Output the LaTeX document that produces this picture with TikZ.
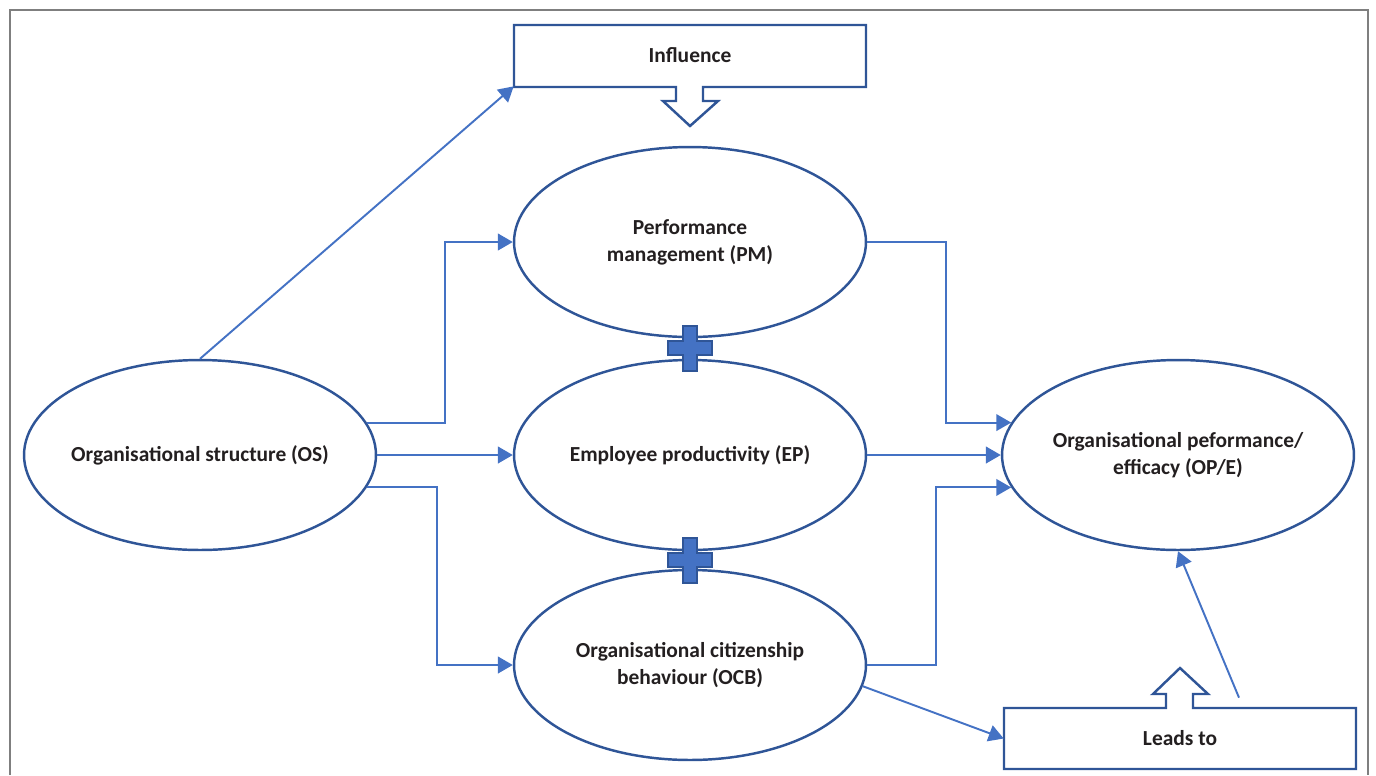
\documentclass[tikz,border=0pt]{standalone}
\usepackage{fontspec}
\setmainfont{Carlito}
\usetikzlibrary{arrows.meta,shapes.geometric,calc}
\definecolor{ebord}{HTML}{2F5597}
\definecolor{connc}{HTML}{4472C4}
\definecolor{txtc}{HTML}{231F20}
\definecolor{framec}{HTML}{7F7F7F}
\begin{document}
\begin{tikzpicture}[x=0.02cm,y=-0.02cm,
  oval/.style={ellipse,draw=ebord,line width=1.4pt,minimum width=7.04cm,minimum height=3.8cm,
    inner xsep=-25pt,inner ysep=0pt,align=center,text=txtc,font=\bfseries\fontsize{12.2}{15.3}\selectfont},
  boxlabel/.style={rectangle,draw=none,inner sep=0pt,text=txtc,font=\bfseries\fontsize{12.2}{15}\selectfont},
  calloutline/.style={draw=ebord,line width=1.4pt,fill=white,line join=miter},
  link/.style={draw=connc,line width=1.1pt,-{Triangle[length=8.5pt,width=9.5pt]}},
  plusshape/.style={fill=connc,draw=ebord,line width=0.9pt},
  framestyle/.style={draw=framec,line width=1.2pt}]
\useasboundingbox (0,0) rectangle (1376,775);
\draw[framestyle] (10,775) -- (10,10) -- (1368,10) -- (1368,775);

% ovals
\node[oval] (os)  at (200,455) {Organisational structure (OS)};
\node[oval] (pm)  at (690,242) {Performance\\management (PM)};
\node[oval] (ep)  at (690,455) {Employee productivity (EP)};
\node[oval] (ocb) at (690,665) {Organisational citizenship\\behaviour (OCB)};
\node[oval] (ope) at (1178,455) {Organisational peformance/\\efficacy (OP/E)};

% callout boxes
\draw[calloutline] (514,25) -- (866,25) -- (866,87) -- (703,87) -- (703,101) -- (718,101)
  -- (690,126) -- (663,101) -- (676,101) -- (676,87) -- (514,87) -- cycle;
\node[boxlabel,minimum width=7.04cm,minimum height=1.24cm] (infl) at (690,55) {Influence};
\draw[calloutline] (1004,708) -- (1166,708) -- (1166,694) -- (1153,694) -- (1180,668)
  -- (1208,694) -- (1193,694) -- (1193,708) -- (1356,708) -- (1356,769) -- (1004,769) -- cycle;
\node[boxlabel,minimum width=7.04cm,minimum height=1.22cm] (leads) at (1180,738.5) {Leads to};

% plus signs
\draw[plusshape] (683,326) -- (697,326) -- (697,341) -- (712,341) -- (712,355) -- (697,355)
  -- (697,371) -- (683,371) -- (683,355) -- (668,355) -- (668,341) -- (683,341) -- cycle;
\draw[plusshape] (683,538) -- (697,538) -- (697,553) -- (712,553) -- (712,567) -- (697,567)
  -- (697,583) -- (683,583) -- (683,567) -- (668,567) -- (668,553) -- (683,553) -- cycle;

% connectors
\draw[link] (os.north) -- (infl.south west);
\draw[link] (os.11.2) -- ++(78,0) |- (pm.west);
\draw[link] (os.east) -- (ep.west);
\draw[link] (os.-11) -- ++(70,0) |- (ocb.west);
\draw[link] (pm.east) -- ++(79,0) |- (ope.169);
\draw[link] (ep.east) -- (ope.west);
\draw[link] (ocb.east) -- ++(69,0) |- (ope.191);
\draw[link] (ocb.-7.6) -- (leads.west);
\coordinate (lstart) at ($(leads.north)+(59,-10)$);
\draw[link] (lstart) -- (ope.south);
\end{tikzpicture}
\end{document}
